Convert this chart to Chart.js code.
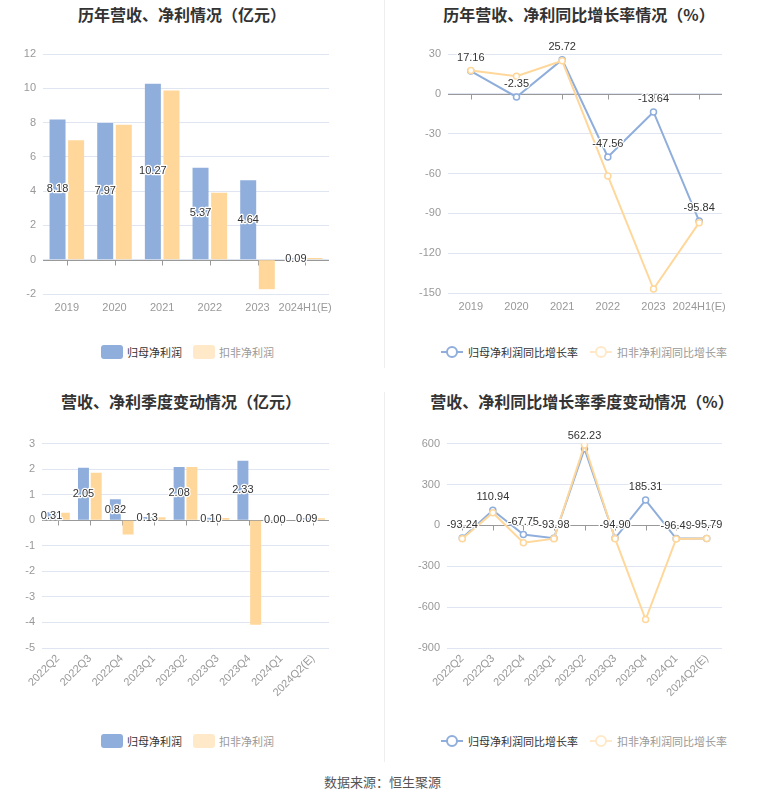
<!DOCTYPE html>
<html>
<head>
<meta charset="utf-8">
<script src="https://cdn.jsdelivr.net/npm/chart.js@4.4.1/dist/chart.umd.min.js"></script>
<style>
body{margin:0;width:765px;height:801px;position:relative;background:#fff;overflow:hidden;font-family:"Liberation Sans","Noto Sans CJK SC",sans-serif}
.title{position:absolute;font-family:"Noto Sans CJK SC",sans-serif;font-size:16px;font-weight:bold;color:#333;line-height:22px;white-space:nowrap;transform:translateX(-50%)}
.box{position:absolute}
.legend{position:absolute;display:flex;align-items:center;font-family:"Noto Sans CJK SC",sans-serif;font-size:11px;line-height:14px;white-space:nowrap}
.rect{display:inline-block;width:22px;height:14px;border-radius:3px;margin-right:4px}
.lic{position:relative;display:inline-block;width:22px;height:14px;margin-right:5px}
.lic i{position:absolute;left:0;top:6px;width:22px;height:2px}
.lic b{position:absolute;left:5px;top:1px;width:8px;height:8px;border:2px solid;border-radius:50%;background:#fff}
.divider{position:absolute;left:384px;width:1px;background:#eee}
.source{position:absolute;left:0;width:765px;top:773px;text-align:center;font-family:"Noto Sans CJK SC",sans-serif;font-size:13px;color:#555;line-height:18px}
</style>
</head>
<body>
<div class="title" style="left:182px;top:3px">历年营收、净利情况（亿元）</div>
<div class="title" style="left:579px;top:3px">历年营收、净利同比增长率情况（%）</div>
<div class="title" style="left:181px;top:390px">营收、净利季度变动情况（亿元）</div>
<div class="title" style="left:582px;top:390px">营收、净利同比增长率季度变动情况（%）</div>

<div class="divider" style="top:0;height:368px"></div>
<div class="divider" style="top:392px;height:370px"></div>

<div class="box" style="left:0;top:40px;width:384px;height:280px"><canvas id="c1"></canvas></div>
<div class="box" style="left:385px;top:40px;width:380px;height:280px"><canvas id="c2"></canvas></div>
<div class="box" style="left:0;top:430px;width:384px;height:290px"><canvas id="c3"></canvas></div>
<div class="box" style="left:385px;top:430px;width:380px;height:290px"><canvas id="c4"></canvas></div>

<div class="legend" style="left:101px;top:345px">
  <span class="rect" style="background:#8FAEDC"></span><span style="color:#333">归母净利润</span>
  <span class="rect" style="background:#FFE9C8;margin-left:11px"></span><span style="color:#999">扣非净利润</span>
</div>
<div class="legend" style="left:441px;top:345px">
  <span class="lic"><i style="background:#8FAEDC"></i><b style="border-color:#8FAEDC"></b></span><span style="color:#333">归母净利润同比增长率</span>
  <span class="lic" style="margin-left:12px"><i style="background:#FFE9C8"></i><b style="border-color:#FFE9C8"></b></span><span style="color:#999">扣非净利润同比增长率</span>
</div>
<div class="legend" style="left:101px;top:734px">
  <span class="rect" style="background:#8FAEDC"></span><span style="color:#333">归母净利润</span>
  <span class="rect" style="background:#FFE9C8;margin-left:11px"></span><span style="color:#999">扣非净利润</span>
</div>
<div class="legend" style="left:441px;top:734px">
  <span class="lic"><i style="background:#8FAEDC"></i><b style="border-color:#8FAEDC"></b></span><span style="color:#333">归母净利润同比增长率</span>
  <span class="lic" style="margin-left:12px"><i style="background:#FFE9C8"></i><b style="border-color:#FFE9C8"></b></span><span style="color:#999">扣非净利润同比增长率</span>
</div>

<div class="source">数据来源：恒生聚源</div>

<script>
// yearly
const years = ["2019", "2020", "2021", "2022", "2023", "2024H1(E)"];
const netProfit = [8.18, 7.97, 10.27, 5.37, 4.64, 0.09];
const deductedProfit = [6.97, 7.88, 9.87, 3.90, -1.72, 0.10];
const netProfitYoy = [17.16, -2.35, 25.72, -47.56, -13.64, -95.84];
const deductedYoy = [17.6, 13.2, 24.9, -61.8, -147.0, -97.0];

// quarterly
const quarters = ["2022Q2", "2022Q3", "2022Q4", "2023Q1", "2023Q2", "2023Q3", "2023Q4", "2024Q1", "2024Q2(E)"];
const qNetProfit = [0.31, 2.05, 0.82, 0.13, 2.08, 0.10, 2.33, 0.00, 0.09];
const qDeducted = [0.29, 1.86, -0.56, 0.12, 2.08, 0.09, -4.09, 0.00, 0.08];
const qNetYoy = [-93.24, 110.94, -67.75, -93.98, 562.23, -94.90, 185.31, -96.49, -95.79];
const qDeductedYoy = [-98, 93, -127, -98, 590, -98, -691, -100, -97];

// axis ranges
const axis1 = {min: -2, max: 12, step: 2};
const axis2 = {min: -150, max: 30, step: 30};
const axis3 = {min: -5, max: 3, step: 1};
const axis4 = {min: -900, max: 600, step: 300};

const BLUE = "#8FAEDC";
const ORANGE = "#FFD79A";

// axis line at zero with small ticks under each category
const zeroAxis = {
  id: "zeroAxis",
  beforeDatasetsDraw(chart){
    const {ctx, chartArea, scales} = chart;
    const y0 = Math.round(scales.y.getPixelForValue(0)) + 0.5;
    ctx.save();
    ctx.strokeStyle = "#999";
    ctx.lineWidth = 1;
    ctx.beginPath();
    ctx.moveTo(chartArea.left, y0);
    ctx.lineTo(chartArea.right, y0);
    scales.x.ticks.forEach((t, i) => {
      const px = Math.round(scales.x.getPixelForTick(i)) + 0.5;
      ctx.moveTo(px, y0);
      ctx.lineTo(px, y0 + 5);
    });
    ctx.stroke();
    ctx.restore();
  }
};

// value labels for the first series
const valueLabels = {
  id: "valueLabels",
  afterDatasetsDraw(chart, args, opts){
    const ctx = chart.ctx;
    const data = chart.data.datasets[0].data;
    ctx.save();
    ctx.font = '11px "Liberation Sans", sans-serif';
    ctx.textAlign = "center";
    ctx.textBaseline = "middle";
    ctx.lineJoin = "round";
    chart.getDatasetMeta(0).data.forEach((el, i) => {
      const txt = data[i].toFixed(2);
      const y = opts.mode === "bar" ? (el.y + el.base) / 2 : el.y - 13;
      ctx.strokeStyle = "#fff";
      ctx.lineWidth = 2.5;
      ctx.strokeText(txt, el.x, y);
      ctx.fillStyle = "#333";
      ctx.fillText(txt, el.x, y);
    });
    ctx.restore();
  }
};

function scalesFor(ax, yWidth, xHeight, rotate){
  return {
    x: {
      offset: true,
      grid: {display: false, drawTicks: false},
      border: {display: false},
      ticks: {
        color: "#999", font: {size: 11}, autoSkip: false,
        padding: rotate ? 4 : 7,
        maxRotation: rotate ? 45 : 0, minRotation: rotate ? 45 : 0
      },
      afterFit(s){ s.height = xHeight; }
    },
    y: {
      min: ax.min, max: ax.max,
      grid: {color: "#E0E6F1", drawTicks: false},
      border: {display: false},
      ticks: {stepSize: ax.step, color: "#999", font: {size: 11}, padding: 7},
      afterFit(s){ s.width = yWidth; }
    }
  };
}

function barChart(id, labels, a, b, ax, yWidth, xHeight, rotate, pad, pct){
  return new Chart(document.getElementById(id), {
    type: "bar",
    data: {
      labels: labels,
      datasets: [
        {label: "归母净利润", data: a, backgroundColor: BLUE, categoryPercentage: pct, barPercentage: 0.86},
        {label: "扣非净利润", data: b, backgroundColor: ORANGE, categoryPercentage: pct, barPercentage: 0.86}
      ]
    },
    options: {
      responsive: true, maintainAspectRatio: false, animation: false,
      layout: {padding: pad},
      plugins: {legend: {display: false}, tooltip: {enabled: false}, valueLabels: {mode: "bar"}},
      scales: scalesFor(ax, yWidth, xHeight, rotate)
    },
    plugins: [zeroAxis, valueLabels]
  });
}

function lineChart(id, labels, a, b, ax, yWidth, xHeight, rotate, pad){
  const ds = (label, data, color, order) => ({
    label: label, data: data, borderColor: color, borderWidth: 2,
    pointRadius: 3, pointBorderWidth: 1.5, pointBackgroundColor: "#fff", pointBorderColor: color,
    tension: 0, order: order
  });
  return new Chart(document.getElementById(id), {
    type: "line",
    data: {
      labels: labels,
      datasets: [
        ds("归母净利润同比增长率", a, BLUE, 1),
        ds("扣非净利润同比增长率", b, ORANGE, 0)
      ]
    },
    options: {
      responsive: true, maintainAspectRatio: false, animation: false,
      layout: {padding: pad},
      plugins: {legend: {display: false}, tooltip: {enabled: false}, valueLabels: {mode: "line"}},
      scales: scalesFor(ax, yWidth, xHeight, rotate)
    },
    plugins: [zeroAxis, valueLabels]
  });
}

barChart("c1", years, netProfit, deductedProfit, axis1, 43, 26, false, {top: 14, right: 55}, 0.78);
lineChart("c2", years, netProfitYoy, deductedYoy, axis2, 63, 27, false, {top: 14, right: 43});
barChart("c3", quarters, qNetProfit, qDeducted, axis3, 42, 72, true, {top: 13, right: 55}, 0.8);
lineChart("c4", quarters, qNetYoy, qDeductedYoy, axis4, 62, 72, true, {top: 13, right: 43});
</script>
</body>
</html>
